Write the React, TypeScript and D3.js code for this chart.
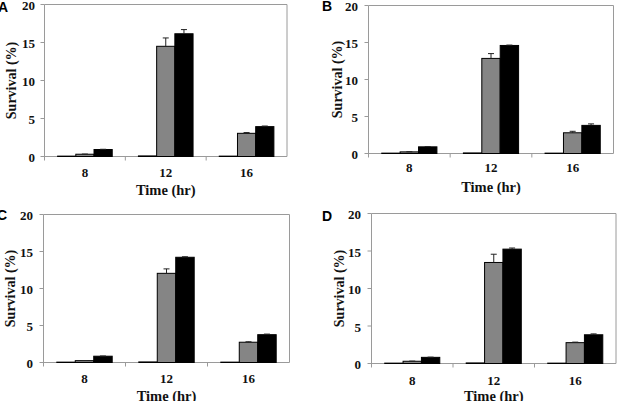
import React from "react";
import * as d3 from "d3";

// Time points (hr) and series
const times = ["8", "12", "16"];
const yTicks = [0, 5, 10, 15, 20];
const seriesColors = ["#ffffff", "#858585", "#000000"];

// Panel A
const aS1 = [0.05, 0.08, 0.05];
const aS2 = [0.3, 14.5, 3.05];
const aS3 = [0.92, 16.15, 3.93];
const aE2 = [0.02, 1.1, 0.1];
const aE3 = [0.03, 0.55, 0.08];

// Panel B
const bS1 = [0.05, 0.08, 0.05];
const bS2 = [0.22, 12.85, 2.8];
const bS3 = [0.9, 14.6, 3.8];
const bE2 = [0.02, 0.65, 0.2];
const bE3 = [0.03, 0.05, 0.2];

// Panel C
const cS1 = [0.05, 0.08, 0.05];
const cS2 = [0.25, 12.05, 2.74];
const cS3 = [0.85, 14.22, 3.76];
const cE2 = [0.02, 0.6, 0.06];
const cE3 = [0.03, 0.07, 0.08];

// Panel D
const dS1 = [0.05, 0.08, 0.05];
const dS2 = [0.3, 13.47, 2.78];
const dS3 = [0.82, 15.25, 3.83];
const dE2 = [0.02, 1.1, 0.07];
const dE3 = [0.03, 0.15, 0.12];

const serif = "Liberation Serif, DejaVu Serif, serif";
const sans = "Liberation Sans, Arial, sans-serif";
const axisGray = "#9a9a9a";

type PanelProps = {
  letter: string;
  letterX: number;
  letterY: number;
  left: number;
  top: number;
  right: number;
  bottom: number;
  tickLabelX: number;
  yTitleX: number;
  xTickY: number;
  xTitleY: number;
  values: number[][];
  errors: (number[] | null)[];
};

function Panel(p: PanelProps) {
  const x = d3.scaleBand<string>().domain(times).range([p.left, p.right]).padding(0);
  const inner = d3
    .scaleBand<number>()
    .domain([0, 1, 2])
    .range([0, x.bandwidth()])
    .paddingOuter(0.72)
    .paddingInner(0);
  const y = d3.scaleLinear().domain([0, 20]).range([p.bottom, p.top]);
  const capHalf = 3;

  return (
    <g>
      <text x={p.letterX} y={p.letterY} style={{ fontFamily: sans }} fontWeight="bold" fontSize={14} fill="#000">
        {p.letter}
      </text>
      {/* frame */}
      <line x1={p.left} x2={p.right} y1={p.top} y2={p.top} stroke={axisGray} strokeWidth={1} />
      <line x1={p.right} x2={p.right} y1={p.top} y2={p.bottom} stroke={axisGray} strokeWidth={1} />
      <line x1={p.left} x2={p.left} y1={p.top} y2={p.bottom + 4} stroke={axisGray} strokeWidth={1} />
      <line x1={p.left} x2={p.right} y1={p.bottom} y2={p.bottom} stroke={axisGray} strokeWidth={1} />
      {/* y ticks */}
      {yTicks.map((t) => (
        <g key={t}>
          <line x1={p.left - 4} x2={p.left} y1={y(t)} y2={y(t)} stroke={axisGray} />
          <text
            x={p.tickLabelX}
            y={y(t) + 1}
            dy="0.35em"
            textAnchor="end"
            style={{ fontFamily: serif }}
            fontWeight="bold"
            fontSize={13}
            fill="#111"
          >
            {t}
          </text>
        </g>
      ))}
      {/* x ticks at band edges */}
      {times.slice(1).map((t) => (
        <line key={t} x1={x(t)!} x2={x(t)!} y1={p.bottom} y2={p.bottom + 4} stroke={axisGray} />
      ))}
      {times.map((t) => (
        <text
          key={t}
          x={x(t)! + x.bandwidth() / 2}
          y={p.xTickY}
          dy="0.35em"
          textAnchor="middle"
          style={{ fontFamily: serif }}
          fontWeight="bold"
          fontSize={13}
          fill="#111"
        >
          {t}
        </text>
      ))}
      {/* bars */}
      {p.values.map((vals, si) =>
        vals.map((v, ti) => {
          const bx = x(times[ti])! + inner(si)!;
          return (
            <rect
              key={`${si}-${ti}`}
              x={bx}
              y={y(v)}
              width={inner.bandwidth()}
              height={y(0) - y(v)}
              fill={seriesColors[si]}
              stroke="#000"
              strokeWidth={1}
            />
          );
        })
      )}
      {/* error bars (upper) */}
      {p.errors.map((errs, si) =>
        errs
          ? errs.map((e, ti) => {
              const v = p.values[si][ti];
              const cx = x(times[ti])! + inner(si)! + inner.bandwidth() / 2;
              return (
                <g key={`e${si}-${ti}`} stroke="#222" strokeWidth={1}>
                  <line x1={cx} x2={cx} y1={y(v)} y2={y(v + e)} />
                  <line x1={cx - capHalf} x2={cx + capHalf} y1={y(v + e)} y2={y(v + e)} />
                </g>
              );
            })
          : null
      )}
      <text
        transform={`translate(${p.yTitleX},${(p.top + p.bottom) / 2}) rotate(-90)`}
        textAnchor="middle"
        dy="0.35em"
        style={{ fontFamily: serif }}
        fontWeight="bold"
        fontSize={14}
        fill="#111"
      >
        Survival (%)
      </text>
      <text
        x={(p.left + p.right) / 2}
        y={p.xTitleY}
        dy="0.35em"
        textAnchor="middle"
        style={{ fontFamily: serif }}
        fontWeight="bold"
        fontSize={14.5}
        fill="#111"
      >
        Time (hr)
      </text>
    </g>
  );
}

export default function App() {
  return (
    <svg
      width={621}
      height={401}
      style={{ position: "fixed", left: 0, top: 0, background: "#fff" }}
    >
      <rect width={621} height={401} fill="#fff" />
      <Panel
        letter="A"
        letterX={-2}
        letterY={12}
        left={44.5}
        top={4.5}
        right={287}
        bottom={156.5}
        tickLabelX={35}
        yTitleX={11}
        xTickY={172}
        xTitleY={190}
        values={[aS1, aS2, aS3]}
        errors={[null, aE2, aE3]}
      />
      <Panel
        letter="B"
        letterX={322}
        letterY={11}
        left={368.5}
        top={5.5}
        right={613.5}
        bottom={153.5}
        tickLabelX={358}
        yTitleX={337}
        xTickY={167}
        xTitleY={187}
        values={[bS1, bS2, bS3]}
        errors={[null, bE2, bE3]}
      />
      <Panel
        letter="C"
        letterX={-3}
        letterY={220}
        left={43.5}
        top={214.5}
        right={289.5}
        bottom={362.5}
        tickLabelX={33}
        yTitleX={10}
        xTickY={378}
        xTitleY={396}
        values={[cS1, cS2, cS3]}
        errors={[null, cE2, cE3]}
      />
      <Panel
        letter="D"
        letterX={322}
        letterY={221}
        left={371.5}
        top={213.5}
        right={616}
        bottom={363.5}
        tickLabelX={361}
        yTitleX={339}
        xTickY={380}
        xTitleY={396}
        values={[dS1, dS2, dS3]}
        errors={[null, dE2, dE3]}
      />
    </svg>
  );
}
